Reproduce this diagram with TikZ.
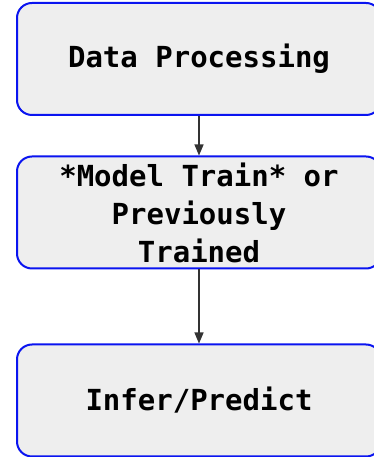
\documentclass[tikz,border=0pt]{standalone}
\usepackage{fontspec}
\setmonofont{DejaVu Sans Mono}
\usetikzlibrary{arrows.meta}
\definecolor{boxfill}{HTML}{EEEEEE}
\definecolor{boxline}{HTML}{0A14F0}
\definecolor{arr}{HTML}{333333}
\begin{document}
\begin{tikzpicture}[x=1pt,y=1pt,
  flowbox/.style={draw=boxline, line width=2pt, fill=boxfill, rounded corners=15pt,
    minimum width=364pt, minimum height=112pt, inner sep=0pt,
    align=center, font=\fontsize{29}{38}\selectfont\ttfamily\bfseries, text=black},
  conn/.style={draw=arr, line width=1.3pt, -{Triangle[length=11pt,width=9pt]}}]
\useasboundingbox (0,0) rectangle (374,457);
\node[flowbox] (dp) at (199,398) {Data Processing};
\node[flowbox] (mt) at (199,244.5) {*Model Train* or\\Previously\\Trained};
\node[flowbox] (ip) at (199,56.5) {Infer/Predict};
\draw[conn] (dp) -- (mt);
\draw[conn] (mt) -- (ip);
\end{tikzpicture}
\end{document}
